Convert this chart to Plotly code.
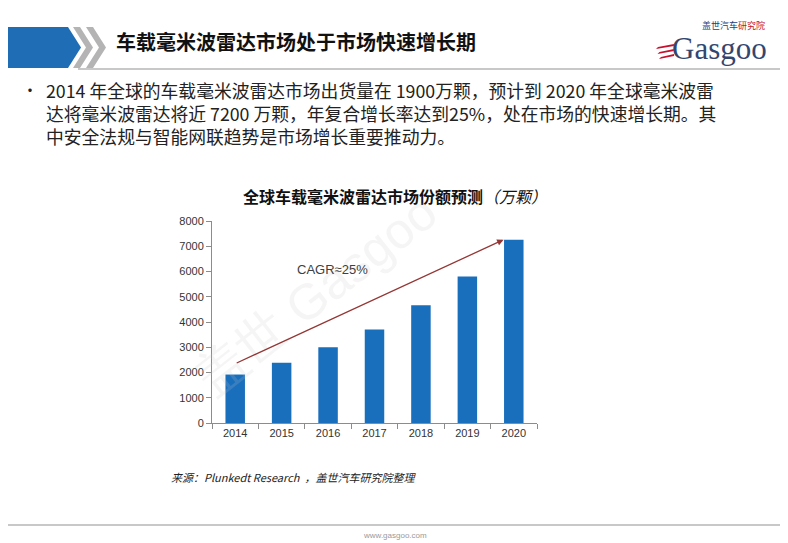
import plotly.graph_objects as go

# --- data ---
years = ["2014", "2015", "2016", "2017", "2018", "2019", "2020"]
shipments = [1920, 2390, 3000, 3700, 4660, 5800, 7260]   # 万颗
y_ticks = [0, 1000, 2000, 3000, 4000, 5000, 6000, 7000, 8000]

trend_start = (0.0, 2350)     # (category index, value)
trend_end = (5.78, 7260)
cagr_label = "CAGR≈25%"

page_title = "车载毫米波雷达市场处于市场快速增长期"
bullet_lines = [
    "2014 年全球的车载毫米波雷达市场出货量在 1900万颗，预计到 2020 年全球毫米波雷",
    "达将毫米波雷达将近 7200 万颗，年复合增长率达到25%，处在市场的快速增长期。其",
    "中安全法规与智能网联趋势是市场增长重要推动力。",
]
chart_title = "<b>全球车载毫米波雷达市场份额预测</b><i>（万颗）</i>"
source_note = "来源：Plunkedt Research  ，盖世汽车研究院整理"

# --- canvas / plot area in page pixels ---
# the page body has an 8px margin, so the figure is drawn 8px smaller and everything is shifted
OFF = 8
W, H = 788 - OFF, 543 - OFF
L, R, T, B = 212, 537, 221, 423

def px(x):
    return (x - L) / (R - L)

def py(y):
    return (B - y) / (B - T)

CJK = "Noto Sans CJK SC"
BLUE = "#1a6fbd"

fig = go.Figure(go.Bar(
    x=years,
    y=shipments,
    marker_color=BLUE,
    marker_line_width=0,
    hoverinfo="x+y",
))

shapes = []
# header blue band with chevron end
shapes.append(dict(type="path", xref="paper", yref="paper",
                   path=f"M {px(-10)},{py(27)} L {px(68)},{py(27)} L {px(81)},{py(47.5)} "
                        f"L {px(68)},{py(68)} L {px(-10)},{py(68)} Z",
                   fillcolor="#1f6db5", line_width=0))
# two grey chevrons
for x0 in (73, 86):
    shapes.append(dict(type="path", xref="paper", yref="paper",
                       path=f"M {px(x0)},{py(27)} L {px(x0 + 7)},{py(27)} L {px(x0 + 20)},{py(47.5)} "
                            f"L {px(x0 + 7)},{py(68)} L {px(x0)},{py(68)} L {px(x0 + 13)},{py(47.5)} Z",
                       fillcolor="#b4b4b4", line_width=0))
# header rule and footer rule
shapes.append(dict(type="line", xref="paper", yref="paper",
                   x0=px(78), x1=px(800), y0=py(69), y1=py(69),
                   line=dict(color="#c8c8c8", width=2)))
shapes.append(dict(type="line", xref="paper", yref="paper",
                   x0=px(-10), x1=px(800), y0=py(525), y1=py(525),
                   line=dict(color="#c8c8c8", width=2)))
# red stripes of the logo
for i, yy in enumerate((44, 49, 54)):
    shapes.append(dict(type="path", xref="paper", yref="paper",
                       path=f"M {px(658 + i * 1.5)},{py(yy + 3)} L {px(674)},{py(yy)} "
                            f"L {px(674)},{py(yy + 2)} L {px(656 + i * 1.5)},{py(yy + 5)} Z",
                       fillcolor="#c8102e", line_width=0))

annotations = [
    # page title
    dict(text=f"<b>{page_title}</b>", x=px(114), y=py(41), xref="paper", yref="paper",
         xanchor="left", yanchor="middle", showarrow=False,
         font=dict(family=CJK, size=20, color="#111111")),
    # logo
    dict(text="Gasgoo", x=px(670), y=py(49), xref="paper", yref="paper",
         xanchor="left", yanchor="middle", showarrow=False,
         font=dict(family="Liberation Serif", size=31, color="#34466e")),
    dict(text="<span style='color:#24407a'>盖世汽车</span><span style='color:#c8102e'>研究院</span>",
         x=px(700), y=py(25), xref="paper", yref="paper",
         xanchor="left", yanchor="middle", showarrow=False,
         font=dict(family=CJK, size=9)),
    # bullet
    dict(text="•", x=px(20), y=py(89), xref="paper", yref="paper",
         xanchor="left", yanchor="middle", showarrow=False,
         font=dict(family=CJK, size=16, color="#222222")),
    # chart title
    dict(text=chart_title, x=px(395), y=py(196), xref="paper", yref="paper",
         xanchor="center", yanchor="middle", showarrow=False,
         font=dict(family=CJK, size=16, color="#111111")),
    # watermark
    dict(text="盖世 Gasgoo", x=px(450), y=py(295), xref="paper", yref="paper",
         textangle=-38, showarrow=False,
         font=dict(family="Liberation Sans", size=50, color="rgba(200,200,200,0.18)")),
    # growth arrow
    dict(x=trend_end[0], y=trend_end[1], ax=trend_start[0], ay=trend_start[1],
         xref="x", yref="y", axref="x", ayref="y", text="",
         showarrow=True, arrowhead=2, arrowsize=1, arrowwidth=1.3, arrowcolor="#943634"),
    dict(text=cagr_label, x=2.1, y=6080, xref="x", yref="y", showarrow=False,
         font=dict(family="Liberation Sans", size=13, color="#404040")),
    # source & footer
    dict(text=f"<i>{source_note}</i>", x=px(169), y=py(477), xref="paper", yref="paper",
         xanchor="left", yanchor="middle", showarrow=False,
         font=dict(family=CJK, size=11, color="#222222")),
    dict(text="www.gasgoo.com", x=px(395), y=py(535), xref="paper", yref="paper",
         xanchor="center", yanchor="middle", showarrow=False,
         font=dict(family="Liberation Sans", size=8, color="#9a9a9a")),
]

# bullet paragraph, one annotation per line
for i, line in enumerate(bullet_lines):
    annotations.append(dict(text=line, x=px(44), y=py(90 + 23 * i), xref="paper", yref="paper",
                            xanchor="left", yanchor="middle", align="left", showarrow=False,
                            font=dict(family=CJK, size=17.8, color="#222222")))

fig.update_layout(
    width=W, height=H,
    margin=dict(l=L - OFF, r=W + OFF - R, t=T - OFF, b=H + OFF - B, pad=0),
    paper_bgcolor="white", plot_bgcolor="white",
    bargap=0.58,
    showlegend=False,
    shapes=shapes,
    annotations=annotations,
    font=dict(family="Liberation Sans", size=11, color="#404040"),
)
fig.update_xaxes(
    type="category", showline=True, linecolor="#8c8c8c", linewidth=1,
    ticks="outside", tickson="boundaries", ticklen=5, tickcolor="#8c8c8c",
    showgrid=False, tickfont=dict(size=11, color="#333333"),
)
fig.update_yaxes(
    range=[0, 8000], tickvals=y_ticks, showline=True, linecolor="#8c8c8c", linewidth=1,
    ticks="outside", ticklen=5, tickcolor="#8c8c8c", showgrid=False, zeroline=False,
    tickfont=dict(size=11, color="#333333"),
)

fig.write_html("out.html")
